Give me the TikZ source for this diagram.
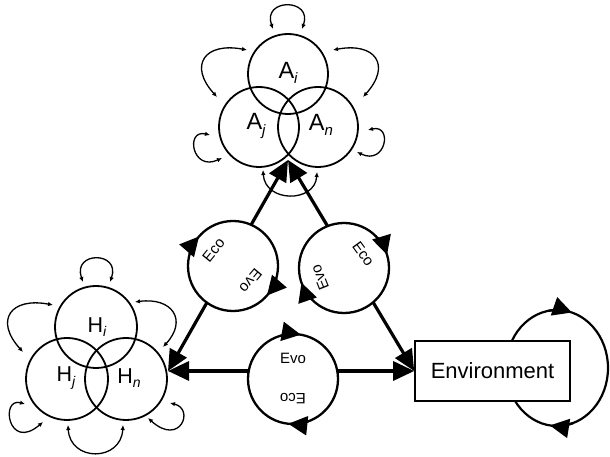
\documentclass[tikz,border=0pt]{standalone}
\usepackage{fontspec}
\setmainfont{Liberation Sans}
\usetikzlibrary{arrows.meta,calc,shapes.geometric}
\begin{document}
\begin{tikzpicture}[x=1pt,y=1pt,
  clusA/.style={circle,draw,line width=1.8pt,minimum size=80pt,inner sep=0pt},
  clusH/.style={circle,draw,line width=1.8pt,minimum size=82pt,inner sep=0pt},
  cyc/.style={circle,draw,line width=2.3pt,fill=white,minimum size=90pt,inner sep=0pt},
  edge/.style={line width=3.2pt,{Triangle[length=21pt,width=19pt]}-{Triangle[length=21pt,width=19pt]}},
  loopar/.style={line width=1.3pt,{Latex[length=5pt,width=4.5pt]}-{Latex[length=5pt,width=4.5pt]}},
  ctip/.style={line width=2.3pt,-{Triangle[length=19pt,width=19pt]}},
  lbl/.style={font=\fontsize{15}{15}\selectfont,inner sep=0pt},
  albl/.style={font=\fontsize{23.5}{24}\selectfont,inner sep=0pt},
  hlbl/.style={font=\fontsize{21.5}{22}\selectfont,inner sep=0pt},
]
\useasboundingbox (0,0) rectangle (610,457);

% A cluster
\node[clusA] (Ai) at (288,383) {};
\node[clusA] (Aj) at (259,330) {};
\node[clusA] (An) at (318,330) {};
\node[albl] (lAi) at (288,384) {A\raisebox{-0.22em}{\fontsize{15}{15}\selectfont\itshape i}};
\node[albl] (lAj) at (256,331) {A\raisebox{-0.22em}{\fontsize{15}{15}\selectfont\itshape j}};
\node[albl] (lAn) at (321,332) {A\raisebox{-0.22em}{\fontsize{15}{15}\selectfont\itshape n}};

% H cluster
\node[clusH] (Hi) at (96,130) {};
\node[clusH] (Hj) at (67,78) {};
\node[clusH] (Hn) at (126,78) {};
\node[hlbl] (lHi) at (97,130) {H\raisebox{-0.22em}{\fontsize{14}{14}\selectfont\itshape i}};
\node[hlbl] (lHj) at (66,79) {H\raisebox{-0.22em}{\fontsize{14}{14}\selectfont\itshape j}};
\node[hlbl] (lHn) at (129,79) {H\raisebox{-0.22em}{\fontsize{14}{14}\selectfont\itshape n}};

% small loops around A
\draw[loopar] (273,428) .. controls (262,459) and (313,459) .. (302,428);
\draw[loopar] (247,407) .. controls (205,415) and (188,392) .. (217,360);
\draw[loopar] (333,407) .. controls (375,415) and (392,392) .. (363,360);
\draw[loopar] (210,322) .. controls (185,328) and (192,285) .. (222,299);
\draw[loopar] (368,327) .. controls (393,333) and (386,291) .. (357,305);
\draw[loopar] (263,287) .. controls (265,254) and (315,254) .. (317,285);

% small loops around H
\draw[loopar] (83,175) .. controls (72,206) and (121,206) .. (110,175);
\draw[loopar] (53,152) .. controls (11,160) and (-6,137) .. (23,105);
\draw[loopar] (135,155) .. controls (172,160) and (188,137) .. (163,110);
\draw[loopar] (25,53) .. controls (0,60) and (8,5) .. (43,35);
\draw[loopar] (170,54) .. controls (195,48) and (180,10) .. (148,39);
\draw[loopar] (68,32) .. controls (70,-5) and (121,-5) .. (123,32);

% environment
\node[ellipse,draw,line width=2.2pt,minimum width=102pt,minimum height=116pt,inner sep=0pt] (envloop) at (557,89) {};
\draw[ctip] ($(envloop.center)+(100:51 and 58)$) arc[start angle=100, end angle=73, x radius=51, y radius=58];
\draw[ctip] ($(envloop.center)+(289:51 and 58)$) arc[start angle=289, end angle=262, x radius=51, y radius=58];
\node[draw,line width=1.6pt,fill=white,minimum width=155pt,minimum height=60pt,inner sep=0pt,font=\fontsize{22}{22}\selectfont] (env) at (492.5,86) {Environment};

% triangle
\coordinate (tv) at (288,297);
\coordinate (lv) at (168,86);
\draw[edge] (lv) -- (tv);
\draw[edge] (env.west) -- (tv);
\draw[edge] (lv) -- (env.west);

% cycles
\node[cyc] (cl) at (233,191) {};
\node[cyc] (cr) at (344,189) {};
\node[cyc] (cb) at (293,78) {};

\node[lbl,rotate=51] (cl1) at ($(cl)+(141:25)$) {Eco};
\node[lbl,rotate=230] (cl2) at ($(cl)+(-40:23)$) {Evo};
\node[lbl,rotate=-54] (cr1) at ($(cr)+(36:24)$) {Eco};
\node[lbl,rotate=112] (cr2) at ($(cr)+(202:26)$) {Evo};
\node[lbl] (cb1) at ($(cb)+(90:21)$) {Evo};
\node[lbl,rotate=180] (cb2) at ($(cb)+(270:20)$) {Eco};

\draw[ctip] ($(cl)+(165:45)$) arc[start angle=165, end angle=139, radius=45];
\draw[ctip] ($(cl)+(345:45)$) arc[start angle=345, end angle=319, radius=45];
\draw[ctip] ($(cr)+(43:45)$) arc[start angle=43, end angle=17, radius=45];
\draw[ctip] ($(cr)+(225:45)$) arc[start angle=225, end angle=199, radius=45];
\draw[ctip] ($(cb)+(106:45)$) arc[start angle=106, end angle=80, radius=45];
\draw[ctip] ($(cb)+(290:45)$) arc[start angle=290, end angle=264, radius=45];
\end{tikzpicture}
\end{document}
